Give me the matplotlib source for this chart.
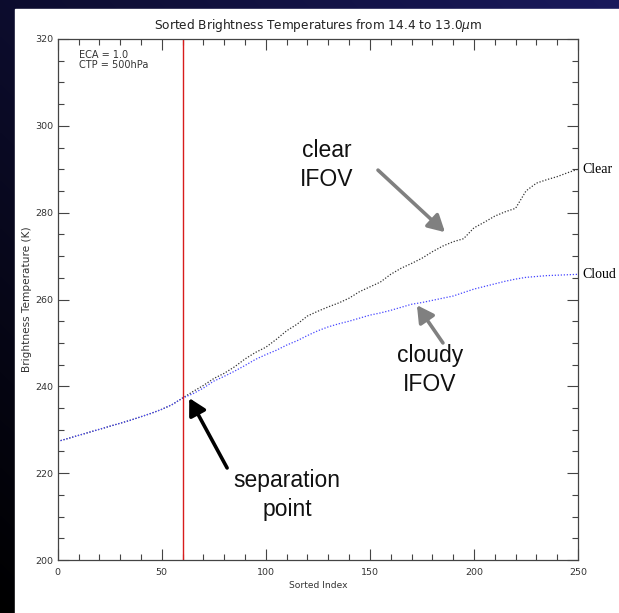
import numpy as np
import matplotlib
matplotlib.use("Agg")
import matplotlib.pyplot as plt
from matplotlib.patches import Rectangle

# =========================
# Data (every 5th sorted index)
# =========================
idx = [0, 5, 10, 15, 20, 25, 30, 35, 40, 45, 50, 55, 60,
       65, 70, 75, 80, 85, 90, 95, 100, 105, 110, 115, 120,
       125, 130, 135, 140, 145, 150, 155, 160, 165, 170, 175,
       180, 185, 190, 195, 200, 205, 210, 215, 220, 225, 230,
       235, 240, 245, 250]

bt_clear = [227.3, 228.0, 228.7, 229.4, 230.1, 230.8, 231.5, 232.2, 233.0, 233.8, 234.7, 235.8, 237.3,
            238.8, 240.2, 241.8, 243.0, 244.5, 246.3, 247.8, 249.0, 250.8, 252.8, 254.3, 256.2,
            257.3, 258.3, 259.2, 260.3, 261.8, 262.9, 264.0, 265.8, 267.2, 268.3, 269.5,
            271.0, 272.3, 273.3, 274.0, 276.5, 277.8, 279.2, 280.2, 281.0, 285.0, 286.8,
            287.6, 288.3, 289.2, 290.0]

bt_cloud = [227.3, 228.0, 228.7, 229.4, 230.1, 230.8, 231.5, 232.2, 233.0, 233.8, 234.7, 235.8, 237.3,
            238.3, 239.6, 241.2, 242.3, 243.5, 244.8, 246.2, 247.3, 248.3, 249.5, 250.5, 251.7,
            252.8, 253.7, 254.4, 255.0, 255.7, 256.4, 256.9, 257.5, 258.2, 258.9, 259.3,
            259.8, 260.3, 260.8, 261.6, 262.4, 263.0, 263.6, 264.2, 264.7, 265.1, 265.3,
            265.5, 265.6, 265.7, 265.8]

sep_index = 60

# =========================
# Figure + background
# =========================
W, H = 619, 613
fig = plt.figure(figsize=(W / 100, H / 100), dpi=100)

bg = fig.add_axes([0, 0, 1, 1])
grad = np.linspace(0, 1, 256)
gx, gy = np.meshgrid(grad, grad)
g = (gx * 0.5 + gy * 0.5)
img = np.zeros((256, 256, 3))
img[..., 0] = 0.10 * g
img[..., 1] = 0.10 * g
img[..., 2] = 0.36 * g
bg.imshow(img, origin="lower", extent=[0, 1, 0, 1], aspect="auto")
bg.add_patch(Rectangle((15 / W, 0), 1 - 15 / W, 1 - 9 / H, color="white"))
bg.set_axis_off()

ax = fig.add_axes([57.7 / W, 53 / H, 520.3 / W, 521 / H])
ax.set_facecolor("white")

ax.plot(idx, bt_clear, color="#333333", lw=0.9, linestyle=(0, (1, 1.4)))
ax.plot(idx, bt_cloud, color="#4646ff", lw=0.9, linestyle=(0, (1, 1.4)))
ax.axvline(sep_index, color="#d81c1c", lw=1.0)

ax.set_xlim(0, 250)
ax.set_ylim(200, 320)
ax.set_xticks(np.arange(0, 251, 50))
ax.set_xticks(np.arange(0, 251, 10), minor=True)
ax.set_yticks(np.arange(200, 321, 20))
ax.set_yticks(np.arange(200, 321, 5), minor=True)

for s in ax.spines.values():
    s.set_color("#444444")
    s.set_linewidth(0.9)
ax.tick_params(which="both", direction="in", top=True, right=True,
               color="#444444", width=0.8, labelsize=6.8, labelcolor="#333333")
ax.tick_params(which="major", length=8)
ax.tick_params(which="minor", length=4.5)
ax.tick_params(axis="y", pad=3)
ax.tick_params(axis="x", pad=6)

ax.set_title(r"Sorted Brightness Temperatures from 14.4 to 13.0$\mu$m",
             fontsize=8.7, color="#222222", pad=7)
ax.set_xlabel("Sorted Index", fontsize=6.6, color="#333333")
ax.set_ylabel("Brightness Temperature (K)", fontsize=7.6, color="#333333")
ax.xaxis.set_label_coords(0.5, -0.04)
ax.yaxis.set_label_coords(-0.05, 0.5)

ax.text(0.04, 0.978, "ECA = 1.0\nCTP = 500hPa", transform=ax.transAxes,
        fontsize=7, color="#333333", va="top", ha="left", linespacing=0.95)

# right-hand labels
ax.text(1.008, bt_clear[-1], "Clear", transform=ax.get_yaxis_transform(),
        fontsize=10, family="Liberation Serif", va="center", ha="left")
ax.text(1.008, bt_cloud[-1], "Cloud", transform=ax.get_yaxis_transform(),
        fontsize=10, family="Liberation Serif", va="center", ha="left")

# annotations
txt = dict(fontsize=16.5, family="Liberation Sans", ha="center", va="center",
           linespacing=1.3, color="#111111")
ax.text(129.4, 291.0, "clear\nIFOV", **txt)
ax.text(178.9, 243.8, "cloudy\nIFOV", **txt)
ax.text(110.2, 215.0, "separation\npoint", **txt)

head = "-|>,head_length=1.0,head_width=0.55"
ax.annotate("", xy=(186.1, 275.5), xytext=(153.9, 289.8),
            arrowprops=dict(arrowstyle=head, color="#808080", lw=2.6,
                            shrinkA=0, shrinkB=0))
ax.annotate("", xy=(172.6, 258.7), xytext=(185.1, 250.0),
            arrowprops=dict(arrowstyle=head, color="#808080", lw=2.6,
                            shrinkA=0, shrinkB=0))
ax.annotate("", xy=(63.2, 237.3), xytext=(81.4, 221.2),
            arrowprops=dict(arrowstyle=head, color="black", lw=2.6,
                            shrinkA=0, shrinkB=0))

fig.savefig("out.png", dpi=100)
